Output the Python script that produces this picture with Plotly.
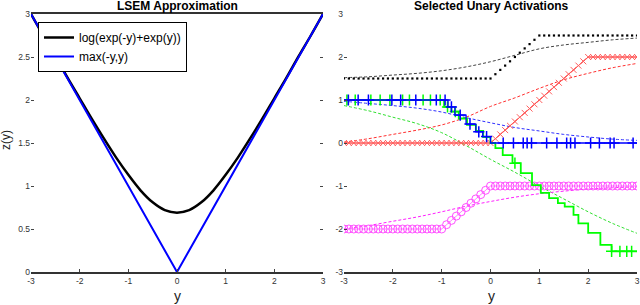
import plotly.graph_objects as go

# ---------------- Left panel data ----------------
lse_x = [-3.0, -2.75, -2.5, -2.25, -2.0, -1.75, -1.5, -1.25, -1.0, -0.75, -0.5, -0.25, 0.0,
         0.25, 0.5, 0.75, 1.0, 1.25, 1.5, 1.75, 2.0, 2.25, 2.5, 2.75, 3.0]
lse_y = [3.0, 2.75, 2.51, 2.26, 2.02, 1.78, 1.55, 1.33, 1.13, 0.95, 0.81, 0.72, 0.69,
         0.72, 0.81, 0.95, 1.13, 1.33, 1.55, 1.78, 2.02, 2.26, 2.51, 2.75, 3.0]
max_x = [-3.0, 0.0, 3.0]
max_y = [3.0, 0.0, 3.0]

# ---------------- Right panel data ----------------
act_x = [-3.0, -2.9, -2.8, -2.7, -2.6, -2.5, -2.4, -2.3, -2.2, -2.1, -2.0, -1.9, -1.8, -1.7, -1.6,
         -1.5, -1.4, -1.3, -1.2, -1.1, -1.0, -0.9, -0.8, -0.7, -0.6, -0.5, -0.4, -0.3, -0.2, -0.1,
         0.0, 0.1, 0.2, 0.3, 0.4, 0.5, 0.6, 0.7, 0.8, 0.9, 1.0, 1.1, 1.2, 1.3, 1.4, 1.5, 1.6, 1.7,
         1.8, 1.9, 2.0, 2.1, 2.2, 2.3, 2.4, 2.5, 2.6, 2.7, 2.8, 2.9, 3.0]
red_y = [0, 0, 0, 0, 0, 0, 0, 0, 0, 0, 0, 0, 0, 0, 0, 0, 0, 0, 0, 0, 0, 0, 0, 0, 0, 0, 0, 0, 0, 0,
         0, 0.1, 0.2, 0.3, 0.4, 0.5, 0.6, 0.7, 0.8, 0.9, 1.0, 1.1, 1.2, 1.3, 1.4, 1.5, 1.6, 1.7,
         1.8, 1.9, 2.0, 2, 2, 2, 2, 2, 2, 2, 2, 2, 2]
mag_y = [-2, -2, -2, -2, -2, -2, -2, -2, -2, -2, -2, -2, -2, -2, -2, -2, -2, -2, -2, -2, -2,
         -1.9, -1.8, -1.7, -1.6, -1.5, -1.4, -1.3, -1.2, -1.1, -1.0,
         -1, -1, -1, -1, -1, -1, -1, -1, -1, -1, -1, -1, -1, -1, -1, -1, -1, -1, -1, -1,
         -1, -1, -1, -1, -1, -1, -1, -1, -1, -1]
blk_y = [1.5, 1.5, 1.5, 1.5, 1.5, 1.5, 1.5, 1.5, 1.5, 1.5, 1.5, 1.5, 1.5, 1.5, 1.5, 1.5, 1.5,
         1.5, 1.5, 1.5, 1.5, 1.5, 1.5, 1.5, 1.5, 1.5, 1.5, 1.5, 1.5, 1.5, 1.5,
         1.6, 1.7, 1.8, 1.9, 2.0, 2.1, 2.2, 2.3, 2.4, 2.5,
         2.5, 2.5, 2.5, 2.5, 2.5, 2.5, 2.5, 2.5, 2.5, 2.5, 2.5, 2.5, 2.5, 2.5, 2.5, 2.5, 2.5,
         2.5, 2.5, 2.5]

blue_step_x = [-3.0, -0.87, -0.73, -0.5, -0.3, -0.16, 0.0, 3.0]
blue_step_y = [1.0, 0.84, 0.65, 0.44, 0.26, 0.15, 0.0, 0.0]
blue_mark_x = [-2.91, -2.71, -2.5, -2.02, -1.84, -1.53, -1.11, -0.93, -0.8, -0.62, -0.42, -0.24,
               -0.08, 0.26, 0.47, 0.67, 0.75, 0.84, 1.15, 1.36, 1.56, 1.64, 1.73, 2.05, 2.23,
               2.45, 2.53, 2.92]
blue_mark_y = [1, 1, 1, 1, 1, 1, 1, 1, 0.84, 0.65, 0.44, 0.26, 0.15, 0, 0, 0, 0, 0, 0, 0, 0, 0,
               0, 0, 0, 0, 0, 0]

green_step_x = [-3.0, -0.95, -0.8, -0.65, -0.48, -0.3, -0.15, 0.0, 0.1, 0.25, 0.45, 0.62, 0.85,
                1.03, 1.2, 1.38, 1.52, 1.7, 1.8, 2.0, 2.25, 2.48, 3.0]
green_step_y = [1.0, 0.84, 0.73, 0.57, 0.42, 0.28, 0.14, 0.0, -0.12, -0.28, -0.47, -0.7, -0.98,
                -1.16, -1.28, -1.4, -1.48, -1.67, -1.87, -2.09, -2.37, -2.52, -2.52]
green_mark_x = [-2.94, -2.77, -2.45, -2.26, -2.06, -1.8, -1.66, -1.38, -1.23, -1.03, -0.88,
                -0.72, 0.5, 2.48, 2.65, 2.79, 2.89]
green_mark_y = [1, 1, 1, 1, 1, 1, 1, 1, 1, 1, 0.84, 0.73, -0.47, -2.52, -2.52, -2.52, -2.52]

smooth_x = [-3.0, -2.5, -2.0, -1.5, -1.0, -0.5, 0.0, 0.5, 1.0, 1.5, 2.0, 2.5, 3.0]
blk_dash = [1.52, 1.54, 1.58, 1.62, 1.68, 1.77, 1.89, 2.04, 2.19, 2.28, 2.34, 2.40, 2.44]
red_dash = [0.02, 0.1, 0.2, 0.3, 0.42, 0.6, 0.85, 1.05, 1.27, 1.47, 1.62, 1.75, 1.85]
blue_dash = [0.97, 0.92, 0.87, 0.81, 0.72, 0.59, 0.47, 0.36, 0.28, 0.2, 0.14, 0.09, 0.06]
green_dash = [0.87, 0.75, 0.6, 0.45, 0.24, -0.06, -0.38, -0.68, -1.0, -1.3, -1.6, -1.87, -2.1]
mag_dash = [-2.0, -1.92, -1.82, -1.72, -1.6, -1.47, -1.36, -1.26, -1.18, -1.12, -1.07, -1.04, -1.02]

FONT = "Liberation Sans, Arial, sans-serif"

fig = go.Figure()

# Left panel
fig.add_trace(go.Scatter(x=lse_x, y=lse_y, mode="lines", line=dict(color="black", width=2.5, shape="spline"),
                         name="log(exp(-y)+exp(y))", xaxis="x", yaxis="y"))
fig.add_trace(go.Scatter(x=max_x, y=max_y, mode="lines", line=dict(color="#0000ff", width=2),
                         name="max(-y,y)", xaxis="x", yaxis="y"))

DASH = "3px,2px"
R = dict(xaxis="x2", yaxis="y2", showlegend=False, hoverinfo="skip")

# Right panel: dashed smooth curves
fig.add_trace(go.Scatter(x=smooth_x, y=blk_dash, mode="lines",
                         line=dict(color="#444444", width=1, dash=DASH, shape="spline"), **R))
fig.add_trace(go.Scatter(x=smooth_x, y=red_dash, mode="lines",
                         line=dict(color="#ff3030", width=1, dash=DASH, shape="spline"), **R))
fig.add_trace(go.Scatter(x=smooth_x, y=blue_dash, mode="lines",
                         line=dict(color="#3030ff", width=1, dash=DASH, shape="spline"), **R))
fig.add_trace(go.Scatter(x=smooth_x, y=green_dash, mode="lines",
                         line=dict(color="#30e030", width=1, dash=DASH, shape="spline"), **R))
fig.add_trace(go.Scatter(x=smooth_x, y=mag_dash, mode="lines",
                         line=dict(color="#ff20ff", width=1, dash=DASH, shape="spline"), **R))

# Magenta circles
fig.add_trace(go.Scatter(x=act_x, y=mag_y, mode="lines+markers",
                         line=dict(color="#ff60ff", width=0.8),
                         marker=dict(symbol="circle-open", size=8, color="#ff50ff", line=dict(width=1)), **R))
# Red x
fig.add_trace(go.Scatter(x=act_x, y=red_y, mode="lines+markers",
                         line=dict(color="#ff0000", width=1),
                         marker=dict(symbol="x-thin-open", size=6, color="#ff6060", line=dict(width=1)), **R))
# Black dotted
fig.add_trace(go.Scatter(x=act_x, y=blk_y, mode="markers",
                         marker=dict(symbol="square", size=2.2, color="black"), **R))
# Green staircase
fig.add_trace(go.Scatter(x=green_step_x, y=green_step_y, mode="lines",
                         line=dict(color="#00ff00", width=1.8, shape="hv"), **R))
fig.add_trace(go.Scatter(x=green_mark_x, y=green_mark_y, mode="markers",
                         marker=dict(symbol="cross-thin-open", size=8, color="#00ff00",
                                     line=dict(width=1.5, color="#00ff00")), **R))
# Blue staircase
fig.add_trace(go.Scatter(x=blue_step_x, y=blue_step_y, mode="lines",
                         line=dict(color="#0000ff", width=1.3, shape="hv"), **R))
fig.add_trace(go.Scatter(x=blue_mark_x, y=blue_mark_y, mode="markers",
                         marker=dict(symbol="cross-thin-open", size=8, color="#0000ff",
                                     line=dict(width=1.5, color="#0000ff")), **R))

W, H = 640, 305
tickfont = dict(family=FONT, size=8.5, color="#333333")

def xax(dom, mirror):
    return dict(domain=dom, range=[-3, 3], tickvals=[-3, -2, -1, 0, 1, 2, 3],
                ticktext=["-3", "-2", "-1", "0", "1", "2", "3"],
                ticks="inside", ticklen=3, tickcolor="#444444", showline=True, linecolor="#333333",
                linewidth=1.5, mirror=mirror, showgrid=False, zeroline=False, tickfont=tickfont,
                automargin=False, fixedrange=True)

ydom = [1 - 272 / H, 1 - 14 / H]
fig.update_layout(
    width=W, height=H, margin=dict(l=0, r=0, t=0, b=0),
    paper_bgcolor="white", plot_bgcolor="white",
    xaxis=dict(**xax([31 / W, 323 / W], True), anchor="y"),
    yaxis=dict(domain=ydom, range=[0, 3], tickvals=[0, 0.5, 1, 1.5, 2, 2.5, 3],
               ticktext=["0", "0.5", "1", "1.5", "2", "2.5", "3"], ticks="inside", ticklen=3,
               tickcolor="#444444", showline=False, mirror="ticks", showgrid=False, zeroline=False,
               tickfont=tickfont, automargin=False, anchor="x", fixedrange=True),
    xaxis2=dict(**xax([344 / W, 637 / W], False), anchor="y2"),
    yaxis2=dict(domain=ydom, range=[-3, 3], tickvals=[-3, -2, -1, 0, 1, 2, 3],
                ticktext=["-3", "-2", "-1", "0", "1", "2", "3"], ticks="inside", ticklen=3,
                tickcolor="#444444", showline=False, showgrid=False, zeroline=False,
                tickfont=tickfont, automargin=False, anchor="x2", fixedrange=True),
    legend=dict(x=38 / W, y=1 - 22 / H, xanchor="left", yanchor="top", bgcolor="white",
                bordercolor="black", borderwidth=1, font=dict(family=FONT, size=12, color="black"),
                tracegroupgap=0, itemwidth=30),
    showlegend=True,
    annotations=[
        dict(text="<b>LSEM Approximation</b>", x=177 / W, y=1 + 3 / H, xref="paper", yref="paper",
             xanchor="center", yanchor="top", showarrow=False, font=dict(family=FONT, size=12, color="black")),
        dict(text="<b>Selected Unary Activations</b>", x=491 / W, y=1 + 3 / H, xref="paper", yref="paper",
             xanchor="center", yanchor="top", showarrow=False, font=dict(family=FONT, size=12, color="black")),
        dict(text="y", x=177 / W, y=1 - 296 / H, xref="paper", yref="paper", xanchor="center",
             yanchor="middle", showarrow=False, font=dict(family=FONT, size=14, color="#222222")),
        dict(text="y", x=491 / W, y=1 - 296 / H, xref="paper", yref="paper", xanchor="center",
             yanchor="middle", showarrow=False, font=dict(family=FONT, size=14, color="#222222")),
        dict(text="z(y)", x=6 / W, y=1 - 140 / H, xref="paper", yref="paper", xanchor="center",
             yanchor="middle", showarrow=False, textangle=-90, font=dict(family=FONT, size=12, color="#222222")),
    ],
)

fig.write_html("out.html", config={"displayModeBar": False},
               post_script="document.body.style.margin='0px';")
